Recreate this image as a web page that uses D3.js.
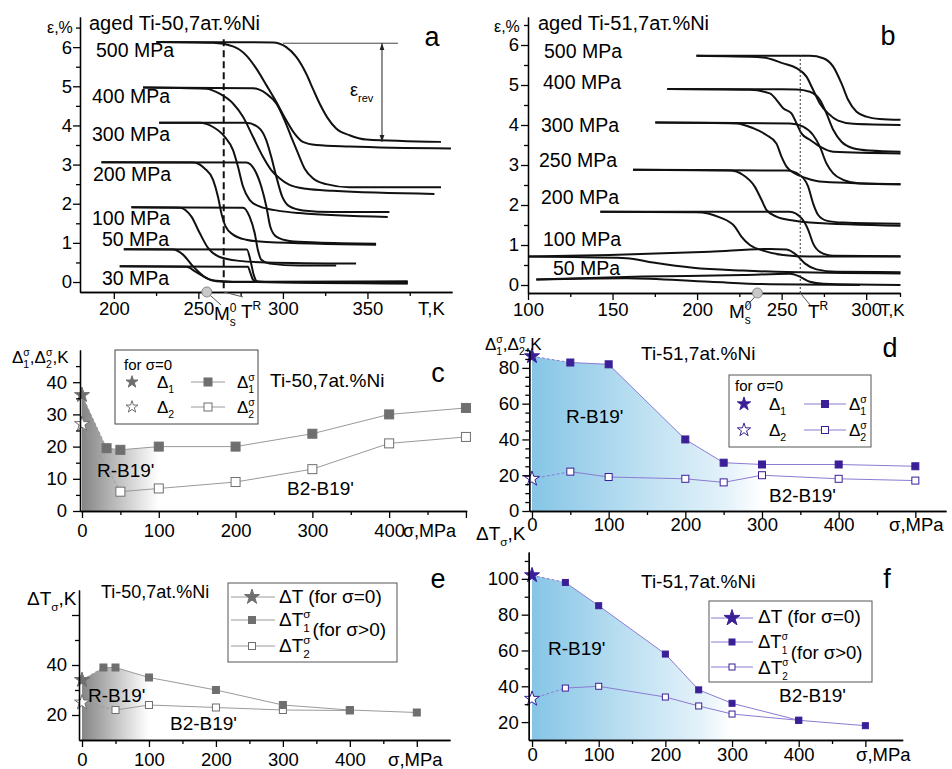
<!DOCTYPE html>
<html><head><meta charset="utf-8">
<script src="https://cdn.jsdelivr.net/npm/d3@7"></script>
<style>
body{margin:0;background:#fff}
svg text{font-family:"Liberation Sans",Arial,Helvetica,sans-serif;fill:#000}
.ax path,.ax line{stroke:#000;stroke-width:1.3}
.ax text{font-size:18.5px}
</style></head><body>
<svg id="chart" width="952" height="769"></svg>
<script>
// ---------------- DATA ----------------
// Panel a: aged Ti-50.7 at.% Ni, strain (%) vs temperature (K); cooling and heating branches
const aLoopLabels = ["500 MPa","400 MPa","300 MPa","200 MPa","100 MPa","50 MPa","30 MPa"];
const aCool500=[[225.2,6.13],[258.7,6.11],[270.5,6.02],[278.3,5.79],[284.3,5.45],[290.2,5.03],[296.1,4.6],[302,4.13],[306.9,3.79],[311.8,3.58],[319.7,3.5],[339.4,3.46],[399.4,3.41]];
const aHeat500=[[225.2,6.13],[294.1,6.12],[302,6.0],[307.9,5.75],[313.8,5.32],[317.7,4.94],[321.7,4.56],[326.6,4.18],[331.5,3.92],[339.4,3.75],[349.2,3.64],[393.5,3.58]];
const aCool400=[[217.3,4.97],[254.7,4.94],[262.6,4.81],[270.5,4.56],[276.4,4.22],[282.3,3.71],[288.2,3.2],[293.1,2.86],[298,2.65],[303.9,2.48],[313.8,2.38],[329.5,2.33],[389.6,2.25]];
const aHeat400=[[217.3,4.97],[282.3,4.95],[290.2,4.81],[296.1,4.56],[301,4.13],[304.9,3.71],[308.9,3.29],[312.8,2.9],[317.7,2.65],[325.6,2.5],[339.4,2.42],[393.5,2.42]];
const aCool300=[[226.8,4.07],[250.8,4.07],[258.7,3.96],[265.6,3.71],[270.5,3.37],[273.4,2.95],[276.4,2.44],[280.3,2.1],[286.2,1.93],[296.1,1.83],[309.8,1.76],[362,1.66]];
const aHeat300=[[226.8,4.07],[278.3,4.07],[285.2,3.96],[290.2,3.62],[293.1,3.2],[296.1,2.69],[299.6,2.18],[303.9,1.93],[311.8,1.83],[329.5,1.79],[363,1.79]];
const aCool200=[[192.7,3.06],[246.9,3.05],[253.7,2.9],[258.7,2.61],[261.6,2.18],[263.6,1.76],[266.1,1.42],[270.5,1.21],[278.3,1.08],[290.2,1.02],[355.1,0.95]];
const aHeat200=[[192.7,3.06],[278.3,3.05],[283.3,2.86],[287.2,2.44],[290.2,1.93],[292.5,1.42],[296.1,1.16],[303.9,1.05],[319.7,1.01],[355.1,0.98]];
const aCool100=[[210.4,1.91],[239,1.9],[245.9,1.67],[250.8,1.25],[255.7,0.87],[262.6,0.64],[274.4,0.54],[290.2,0.5],[343.3,0.47]];
const aHeat100=[[210.4,1.91],[276.4,1.9],[280.3,1.67],[283.3,1.25],[285.2,0.82],[287.2,0.57],[292.1,0.47],[309.8,0.42],[331.5,0.42]];
const aCool50=[[205.9,0.84],[235,0.83],[240.9,0.7],[246.9,0.4],[252.8,0.16],[258.7,0.04],[270.5,0.01],[373.8,0]];
const aHeat50=[[205.9,0.84],[278.7,0.83],[280.7,0.57],[282.7,0.19],[284.6,0.02],[290,0],[373.8,-0.03]];
const aCool30=[[203.5,0.4],[242.9,0.39],[248.8,0.25],[254.7,0.1],[260.6,0.02],[270,0],[373.8,0.02]];
const aHeat30=[[203.5,0.4],[279.3,0.39],[280.7,0.24],[282.3,0.06],[284.3,0],[373.8,-0.04]];
const aTicksX=[200,250,300,350], aTicksY=[0,1,2,3,4,5,6];
const aMs=255, aTR=265, aRevTop=6.1, aRevBottom=3.58;

// Panel b: aged Ti-51.7 at.% Ni
const bLoopLabels = ["500 MPa","400 MPa","300 MPa","250 MPa","200 MPa","100 MPa","50 MPa"];
const bCool500=[[199.6,5.73],[239,5.69],[250.9,5.54],[258.8,5.42],[264.7,5.21],[268.6,4.88],[272.6,4.54],[277.5,4.29],[283.4,4.11],[292.3,4.03],[320.3,4.0]];
const bHeat500=[[199.6,5.73],[266.7,5.73],[274.6,5.67],[280.5,5.46],[285.4,5.04],[289.3,4.63],[294.3,4.33],[300.2,4.21],[308.1,4.15],[320.3,4.13]];
const bCool400=[[182.4,4.9],[231.2,4.88],[243,4.79],[246.9,4.63],[250.9,4.42],[255.8,4.29],[258.8,4.04],[261.7,3.79],[266.7,3.63],[272.6,3.46],[280.5,3.33],[320.3,3.29]];
const bHeat400=[[182.4,4.9],[258.8,4.89],[266.7,4.83],[272.6,4.63],[276.5,4.29],[280.5,3.88],[285.4,3.58],[292.3,3.42],[302.2,3.36],[320.3,3.33]];
const bCool300=[[175.3,4.06],[223.3,4.04],[233.1,3.92],[241,3.75],[246.9,3.54],[249.9,3.21],[252.9,2.96],[257.8,2.79],[264.7,2.67],[274.6,2.58],[320.3,2.52]];
const bHeat300=[[175.3,4.06],[254.8,4.04],[262.7,3.96],[268.6,3.75],[272.6,3.46],[276.5,3.04],[280.5,2.79],[286.4,2.63],[296.3,2.54],[320.3,2.52]];
const bCool250=[[162.1,2.88],[219.3,2.86],[227.2,2.75],[234.1,2.46],[238.1,2.13],[241,1.88],[246.9,1.71],[256.8,1.61],[266.7,1.56],[320.3,1.48]];
const bHeat250=[[162.1,2.88],[252.9,2.86],[260.7,2.75],[265.7,2.46],[268.6,2.04],[271.6,1.75],[276.5,1.61],[286.4,1.56],[320.3,1.53]];
const bCool200=[[142.8,1.83],[199.6,1.82],[213.4,1.69],[222.3,1.46],[226.2,1.21],[231.2,1.0],[239,0.86],[250.9,0.75],[266.7,0.71],[320.3,0.71]];
const bHeat200=[[142.8,1.83],[254.8,1.83],[261.7,1.67],[265.7,1.38],[268.6,1.04],[272.6,0.83],[280.5,0.73],[320.3,0.72]];
const bHeat100=[[100,0.71],[148.3,0.75],[207.5,0.83],[243,0.9],[252.9,0.89],[258.8,0.75],[263.7,0.54],[270.6,0.39],[282.4,0.33],[320.3,0.32]];
const bCool100=[[100,0.71],[158.2,0.67],[174,0.56],[197.6,0.43],[227.2,0.36],[247,0.33],[320.3,0.29]];
const bHeat50=[[104.9,0.14],[168,0.21],[227.2,0.25],[254.8,0.28],[260.7,0.21],[266.7,0.08],[274.6,0.03],[320.3,0]];
const bCool50=[[104.9,0.14],[158.2,0.17],[207.5,0.08],[243,0.02],[296.3,0]];
const bTicksX=[100,150,200,250,300], bTicksY=[0,1,2,3,4,5,6];
const bMs=235.7, bTR=261;

// Panel c: Δ1σ, Δ2σ (K) vs σ (MPa), Ti-50.7
const cSigma1=[32,50,100,200,300,400,500], cDelta1=[19.5,19,20,20,24,30,32];
const cSigma2=[50,100,200,300,400,500],    cDelta2=[6,7,9,13,21,23];
const cStar1=36, cStar2=27;
// Panel d: Ti-51.7
const dSigma1=[50,100,200,250,300,400,500], dDelta1=[83,82,40,27,26,26,25];
const dSigma2=[50,100,200,250,300,400,500], dDelta2=[22,19,18,16,20,18,17];
const dStar1=86.5, dStar2=18;
// Panel e: ΔTσ (K) vs σ, Ti-50.7
const eSigma1=[32,50,100,200,300,400,500], eT1=[39,39,35,30,24,22,21];
const eSigma2=[50,100,200,300,400],        eT2=[22,24,23,22,21.8];
const eStar1=34, eStar2=25;
// Panel f: Ti-51.7
const fSigma1=[50,100,200,250,300,400,500], fT1=[98,85,58,38,30.5,21,18];
const fSigma2=[50,100,200,250,300,400],     fT2=[39,40,34,29,24.5,21];
const fStar1=102, fStar2=33;
const sigmaTicks=[0,100,200,300,400];

// ---------------- DRAWING ----------------
const svg=d3.select('#chart');
const defs=svg.append('defs');

function rich(x,y,parts,fs,anchor,parent){
  const g=(parent||svg).append('g');
  let cx=0;
  for(const p of parts){
    if(typeof p==='string'||p.t!=null){
      const s=typeof p==='string'?p:p.t, dy=(typeof p==='string')?0:(p.dy||0), ddx=(typeof p==='string')?0:(p.dx||0);
      const t=g.append('text').attr('x',cx+ddx).attr('y',dy).attr('font-size',(p.fs||fs)).text(s);
      cx+=t.node().getComputedTextLength()+ddx;
    } else {
      const sfs=p.sfs||fs*0.62; let w=0;
      if(p.sup!=null){const t=g.append('text').attr('x',cx).attr('y',-fs*0.42).attr('font-size',sfs).text(p.sup);w=Math.max(w,t.node().getComputedTextLength());}
      if(p.sub!=null){const t=g.append('text').attr('x',cx).attr('y',fs*0.32).attr('font-size',sfs).text(p.sub);w=Math.max(w,t.node().getComputedTextLength());}
      cx+=w;
    }
  }
  const dx=anchor==='end'?-cx:anchor==='middle'?-cx/2:0;
  g.attr('transform',`translate(${x+dx},${y})`);
  return g;
}
function txt(x,y,s,fs,anchor){return svg.append('text').attr('x',x).attr('y',y).attr('font-size',fs).attr('text-anchor',anchor||'start').text(s);}

function axes(xs,ys,o){
  const yb=ys.range()[0], x0=xs.range()[0];
  const mk=(gen)=>{const g=svg.append('g').attr('class','ax').call(gen);g.attr('font-size',null).attr('font-family',null);return g;};
  mk(d3.axisBottom(xs).tickValues(o.xMinor).tickSize(4).tickSizeOuter(0).tickFormat('')).attr('transform',`translate(0,${yb})`);
  mk(d3.axisBottom(xs).tickValues(o.xMajor).tickSize(7).tickSizeOuter(0).tickPadding(o.xPad).tickFormat(d=>o.xLab.includes(d)?d:'')).attr('transform',`translate(0,${yb})`);
  mk(d3.axisLeft(ys).tickValues(o.yMinor).tickSize(4).tickSizeOuter(0).tickFormat('')).attr('transform',`translate(${x0},0)`);
  mk(d3.axisLeft(ys).tickValues(o.yMajor).tickSize(7).tickSizeOuter(0).tickPadding(o.yPad).tickFormat(d=>o.yLab.includes(d)?d:'')).attr('transform',`translate(${x0},0)`);
}
const rng=(a,b,s)=>d3.range(a,b+1e-9,s);

// ---- loop panels ----
function loopPanel(xs,ys,branches){
  const line=d3.line().x(d=>xs(d[0])).y(d=>ys(d[1])).curve(d3.curveMonotoneX);
  svg.append('g').selectAll('path').data(branches).join('path')
    .attr('d',line).attr('fill','none').attr('stroke','#111').attr('stroke-width',2);
}
// panel a
const xa=d3.scaleLinear().domain([180,400]).range([80,452]);
const ya=d3.scaleLinear().domain([-0.255,6.77]).range([292,17]);
loopPanel(xa,ya,[aCool500,aHeat500,aCool400,aHeat400,aCool300,aHeat300,aCool200,aHeat200,aCool100,aHeat100,aCool50,aHeat50,aCool30,aHeat30]);
svg.append('line').attr('x1',xa(300)).attr('x2',xa(368)).attr('y1',ya(aRevTop)).attr('y2',ya(aRevTop)).attr('stroke','#444').attr('stroke-width',1);
axes(xa,ya,{xMajor:aTicksX,xMinor:[225,275,325,375],xLab:aTicksX,xPad:3,yMajor:aTicksY,yMinor:rng(0.5,6.5,1),yLab:aTicksY,yPad:1});
svg.append('line').attr('x1',xa(aTR)).attr('x2',xa(aTR)).attr('y1',ya(6.2)).attr('y2',ya.range()[0]).attr('stroke','#111').attr('stroke-width',2).attr('stroke-dasharray','7,4');
defs.append('marker').attr('id','arr').attr('viewBox','0 0 10 10').attr('refX',10).attr('refY',5).attr('markerWidth',7).attr('markerHeight',7).attr('orient','auto-start-reverse')
  .append('path').attr('d','M0,1.5L10,5L0,8.5Z').attr('fill','#222');
svg.append('line').attr('x1',xa(358.6)).attr('x2',xa(358.6)).attr('y1',ya(aRevTop)).attr('y2',ya(aRevBottom)).attr('stroke','#222').attr('stroke-width',1)
  .attr('marker-start','url(#arr)').attr('marker-end','url(#arr)');
rich(350,96,['ε',{sub:'rev',sfs:11}],18);
svg.append('line').attr('x1',xa(aMs)+3).attr('y1',ya.range()[0]+3).attr('x2',221).attr('y2',305).attr('stroke','#555').attr('stroke-width',1);
svg.append('line').attr('x1',xa(aTR)).attr('y1',ya.range()[0]).attr('x2',243).attr('y2',297).attr('stroke','#555').attr('stroke-width',1);
svg.append('circle').attr('cx',xa(aMs)).attr('cy',ya.range()[0]).attr('r',5).attr('fill','#c8c8c8').attr('stroke','#888');
rich(214,320,['M',{sup:'0',sub:'s',sfs:12}],19);
rich(241,318,['T',{sup:'R',sfs:12}],19);
txt(418,315,'T,K',18.5);
rich(47,33,['ε,%'],16);
txt(89,30,'aged Ti-50,7ат.%Ni',20);
txt(432,46,'a',27,'middle');
[[96,57],[92,103],[92,141],[93,181],[92,225],[102,246],[102,285]].forEach((p,i)=>txt(p[0],p[1],aLoopLabels[i],19.5));

// panel b
const xb=d3.scaleLinear().domain([100,320]).range([528,900]);
const yb=d3.scaleLinear().domain([-0.2,6.7]).range([293,17]);
loopPanel(xb,yb,[bCool500,bHeat500,bCool400,bHeat400,bCool300,bHeat300,bCool250,bHeat250,bCool200,bHeat200,bCool100,bHeat100,bCool50,bHeat50]);
axes(xb,yb,{xMajor:bTicksX,xMinor:[125,175,225,275,320],xLab:bTicksX,xPad:3,yMajor:bTicksY,yMinor:rng(0.5,6.5,1),yLab:bTicksY,yPad:2});
svg.append('line').attr('x1',xb(bTR)).attr('x2',xb(bTR)).attr('y1',yb(5.75)).attr('y2',yb.range()[0]).attr('stroke','#333').attr('stroke-width',1).attr('stroke-dasharray','2,2');
svg.append('line').attr('x1',xb(bMs)-2).attr('y1',yb.range()[0]+3).attr('x2',745).attr('y2',308).attr('stroke','#555').attr('stroke-width',1);
svg.append('line').attr('x1',xb(bTR)).attr('y1',yb.range()[0]).attr('x2',811).attr('y2',306).attr('stroke','#555').attr('stroke-width',1);
svg.append('circle').attr('cx',xb(bMs)).attr('cy',yb.range()[0]).attr('r',5).attr('fill','#c8c8c8').attr('stroke','#888');
rich(729,318,['M',{sup:'0',sub:'s',sfs:12}],19);
rich(808,318,['T',{sup:'R',sfs:12}],19);
txt(880,316,'T,K',17);
rich(494,32,['ε,%'],16);
txt(538,30,'aged Ti-51,7ат.%Ni',20);
txt(888,45,'b',27,'middle');
[[544,58],[543,89],[541,132],[539,167],[541,204],[543,246],[553,275]].forEach((p,i)=>txt(p[0],p[1],bLoopLabels[i],19.5));

// ---- sigma panels ----
function gradient(id,stops,x1,x2){
  const g=defs.append('linearGradient').attr('id',id).attr('gradientUnits','userSpaceOnUse').attr('x1',x1).attr('x2',x2).attr('y1',0).attr('y2',0);
  stops.forEach(s=>g.append('stop').attr('offset',s[0]).attr('stop-color',s[1]));
}
function star(x,y,size,fill,stroke){
  svg.append('path').attr('d',d3.symbol(d3.symbolStar,size)()).attr('transform',`translate(${x},${y})`)
    .attr('fill',fill).attr('stroke',stroke).attr('stroke-width',1);
}
function sq(x,y,s,fill,stroke){
  svg.append('rect').attr('x',x-s/2).attr('y',y-s/2).attr('width',s).attr('height',s).attr('fill',fill).attr('stroke',stroke).attr('stroke-width',1);
}
function sigmaPanel(xs,ys,o){
  const y0=ys.domain()[0];
  const areaPts=[[0,o.star1]].concat(o.s1.map((s,i)=>[s,o.v1[i]])).filter(d=>d[0]<=o.cut);
  gradient(o.id,o.stops,xs(0),xs(o.cut));
  svg.append('path').datum(areaPts).attr('d',d3.area().x(d=>xs(d[0])).y0(ys(y0)).y1(d=>ys(d[1]))).attr('fill',`url(#${o.id})`);
  const line=d3.line().x(d=>xs(d[0])).y(d=>ys(d[1]));
  svg.append('path').datum(o.s1.map((s,i)=>[s,o.v1[i]])).attr('d',line).attr('fill','none').attr('stroke',o.lc).attr('stroke-width',1);
  svg.append('path').datum(o.s2.map((s,i)=>[s,o.v2[i]])).attr('d',line).attr('fill','none').attr('stroke',o.lc).attr('stroke-width',1);
  svg.append('path').datum([[0,o.star1],[o.s1[0],o.v1[0]]]).attr('d',line).attr('fill','none').attr('stroke',o.lc).attr('stroke-width',1).attr('stroke-dasharray','3,2');
  svg.append('path').datum([[0,o.star2],[o.s2[0],o.v2[0]]]).attr('d',line).attr('fill','none').attr('stroke',o.lc).attr('stroke-width',1).attr('stroke-dasharray','3,2');
  o.s2.forEach((s,i)=>sq(xs(s),ys(o.v2[i]),o.ms,'#fff',o.mc));
  o.s1.forEach((s,i)=>sq(xs(s),ys(o.v1[i]),o.ms,o.mc,o.mc));
  star(xs(0),ys(o.star1),o.ss,o.mc,o.mc);
  star(xs(0),ys(o.star2),o.ss,'#fff',o.mc);
}
const GRAY='#6f6f6f', GLINE='#9a9a9a', PURP='#3b1f97', PLINE='#8b7bd2';
const grayStops=[[0,'#858585'],[0.45,'#bdbdbd'],[0.8,'#e8e8e8'],[1,'#ffffff']];
const blueStops=[[0,'#86c5e6'],[0.5,'#bfe1f2'],[0.85,'#e4f2fa'],[1,'#ffffff']];

// panel c
const xc=d3.scaleLinear().domain([-2.6,501]).range([80,466.7]);
const yc=d3.scaleLinear().domain([0,50]).range([511,350]);
sigmaPanel(xc,yc,{id:'gc',stops:grayStops,cut:100,s1:cSigma1,v1:cDelta1,s2:cSigma2,v2:cDelta2,star1:cStar1,star2:cStar2,lc:GLINE,mc:GRAY,ms:9,ss:70});
axes(xc,yc,{xMajor:[0,100,200,300,400,500],xMinor:[50,150,250,350,450],xLab:sigmaTicks,xPad:6,yMajor:[0,10,20,30,40],yMinor:[5,15,25,35,45],yLab:[0,10,20,30,40],yPad:6});
rich(12,363,['Δ',{sub:'1',sup:'σ'},',Δ',{sub:'2',sup:'σ'},',K'],17);
txt(403,537,'σ,MPa',18);
txt(270,387,'Ti-50,7at.%Ni',19);
txt(438,382,'c',27,'middle');
txt(97,477,"R-B19'",19);
txt(287,495,"B2-B19'",19);
svg.append('rect').attr('x',115).attr('y',350).attr('width',143).attr('height',74).attr('fill','#fff').attr('stroke','#444');
txt(124,370,'for σ=0',15);
star(132,382,45,GRAY,GRAY); rich(157,388,['Δ',{sub:'1'}],17);
svg.append('line').attr('x1',191).attr('x2',225).attr('y1',382).attr('y2',382).attr('stroke',GLINE);
sq(208,382,8,GRAY,GRAY); rich(237,388,['Δ',{sub:'1',sup:'σ'}],17);
star(132,407,45,'#fff',GRAY); rich(157,413,['Δ',{sub:'2'}],17);
svg.append('line').attr('x1',191).attr('x2',225).attr('y1',407).attr('y2',407).attr('stroke',GLINE);
sq(208,407,8,'#fff',GRAY); rich(237,413,['Δ',{sub:'2',sup:'σ'}],17);

// panel d
const xd=d3.scaleLinear().domain([-3.5,540]).range([529.3,946]);
const yd=d3.scaleLinear().domain([0,90]).range([511,350]);
sigmaPanel(xd,yd,{id:'gd',stops:blueStops,cut:300,s1:dSigma1,v1:dDelta1,s2:dSigma2,v2:dDelta2,star1:dStar1,star2:dStar2,lc:PLINE,mc:PURP,ms:7,ss:70});
axes(xd,yd,{xMajor:[0,100,200,300,400,500],xMinor:[50,150,250,350,450],xLab:sigmaTicks,xPad:0,yMajor:[0,20,40,60,80],yMinor:rng(5,90,5).filter(v=>v%20),yLab:[0,20,40,60,80],yPad:3});
rich(485,350,['Δ',{sub:'1',sup:'σ'},',Δ',{sub:'2',sup:'σ'},',K'],17);
txt(889,531,'σ,MPa',18.5);
txt(641,360,'Ti-51,7at.%Ni',19);
txt(890,357,'d',27,'middle');
txt(566,423,"R-B19'",19);
txt(769,502,"B2-B19'",19);
svg.append('rect').attr('x',729).attr('y',375).attr('width',142).attr('height',72).attr('fill','#fff').attr('stroke','#555');
txt(735,391,'for σ=0',15);
star(744,404,55,PURP,PURP); rich(769,410,['Δ',{sub:'1'}],17);
svg.append('line').attr('x1',804).attr('x2',846).attr('y1',404).attr('y2',404).attr('stroke',PLINE);
sq(825,404,7,PURP,PURP); rich(849,410,['Δ',{sub:'1',sup:'σ'}],17);
star(744,430,55,'#fff',PURP); rich(769,436,['Δ',{sub:'2'}],17);
svg.append('line').attr('x1',804).attr('x2',846).attr('y1',430).attr('y2',430).attr('stroke',PLINE);
sq(825,430,7,'#fff',PURP); rich(849,436,['Δ',{sub:'2',sup:'σ'}],17);

// panel e
const xe=d3.scaleLinear().domain([-4.5,549.6]).range([79,450]);
const ye=d3.scaleLinear().domain([10,70]).range([740,590]);
sigmaPanel(xe,ye,{id:'ge',stops:grayStops,cut:100,s1:eSigma1,v1:eT1,s2:eSigma2,v2:eT2,star1:eStar1,star2:eStar2,lc:GLINE,mc:GRAY,ms:7,ss:70});
axes(xe,ye,{xMajor:[0,100,200,300,400,500],xMinor:[50,150,250,350,450],xLab:sigmaTicks,xPad:6,yMajor:[20,40,60],yMinor:[30,50],yLab:[20,40],yPad:5});
rich(27,605,['ΔT',{sub:'σ'},',K'],19);
txt(388,766,'σ,MPa',18.5);
txt(101,598,'Ti-50,7at.%Ni',18);
txt(438,588,'e',27,'middle');
txt(88,702,"R-B19'",19);
txt(170,730,"B2-B19'",19);
svg.append('rect').attr('x',228).attr('y',583).attr('width',169).attr('height',79).attr('fill','#fff').attr('stroke','#555');
[[597,'s'],[620,'f'],[646,'o']].forEach(r=>{
  svg.append('line').attr('x1',231).attr('x2',275).attr('y1',r[0]).attr('y2',r[0]).attr('stroke',GLINE);
  if(r[1]==='s') star(252,r[0],70,GRAY,GRAY); else sq(252,r[0],7,r[1]==='f'?GRAY:'#fff',GRAY);
});
rich(279,603,['ΔT (for σ=0)'],19);
rich(279,626,['ΔT',{sup:'σ',sub:'1'},{t:'(for σ>0)',dy:10,dx:2}],19);
rich(279,652,['ΔT',{sup:'σ',sub:'2'}],19);

// panel f
const xf=d3.scaleLinear().domain([-5,556]).range([528.7,902.7]);
const yf=d3.scaleLinear().domain([10,115]).range([740,552]);
sigmaPanel(xf,yf,{id:'gf',stops:blueStops,cut:300,s1:fSigma1,v1:fT1,s2:fSigma2,v2:fT2,star1:fStar1,star2:fStar2,lc:PLINE,mc:PURP,ms:6,ss:70});
axes(xf,yf,{xMajor:[0,100,200,300,400,500],xMinor:[50,150,250,350,450],xLab:sigmaTicks,xPad:1,yMajor:[20,40,60,80,100],yMinor:[30,50,70,90,110],yLab:[20,40,60,80,100],yPad:3});
rich(476,540,['ΔT',{sub:'σ'},',K'],19);
txt(856,761,'σ,MPa',18.5);
txt(641,588,'Ti-51,7at.%Ni',19);
txt(887,588,'f',27,'middle');
txt(548,655,"R-B19'",19);
txt(779,702,"B2-B19'",19);
svg.append('rect').attr('x',709).attr('y',601).attr('width',163).attr('height',81).attr('fill','#fff').attr('stroke','#555');
[[618,'s'],[642,'f'],[667,'o']].forEach(r=>{
  svg.append('line').attr('x1',711).attr('x2',753).attr('y1',r[0]).attr('y2',r[0]).attr('stroke',PLINE);
  if(r[1]==='s') star(732,r[0],80,PURP,PURP); else sq(732,r[0],6,r[1]==='f'?PURP:'#fff',PURP);
});
rich(758,623,['ΔT (for σ=0)'],19);
rich(758,648,['ΔT',{sup:'σ',sub:'1',sfs:10},{t:'(for σ>0)',dy:11,dx:3}],18.5);
rich(758,674,['ΔT',{sup:'σ',sub:'2',sfs:10}],19);
</script></body></html>
